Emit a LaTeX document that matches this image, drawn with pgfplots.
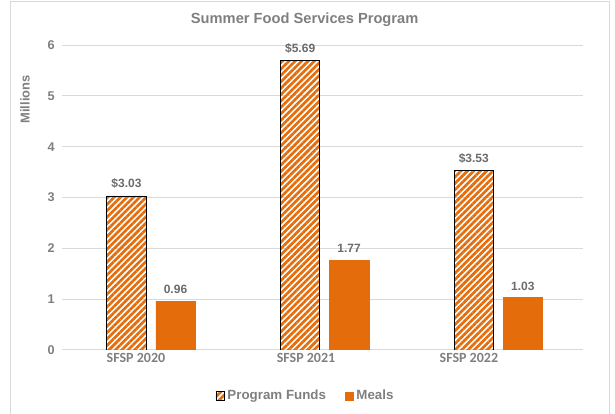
\documentclass[border=0pt]{standalone}
\usepackage{fontspec}
\setmainfont{Liberation Sans}
\newfontfamily\calibri{Carlito}
\usepackage{pgfplots}
\pgfplotsset{compat=1.18}
\usetikzlibrary{patterns.meta}

\definecolor{sfspOrange}{HTML}{E46C0A}
\definecolor{txtGrey}{HTML}{7F7F7F}
\definecolor{lblGrey}{HTML}{6B6B6B}
\definecolor{gridGrey}{HTML}{D9D9D9}

\begin{document}
\begin{tikzpicture}
% 1 px of the reference = 0.75pt; axis box lower-left sits at px (62,350)
\useasboundingbox (-46.5pt,-48pt) rectangle (414.75pt,262.5pt);
\draw[gridGrey, line width=0.75pt] (-38.25pt,-60pt) -- (-38.25pt,261pt) -- (410.25pt,261pt) -- (410.25pt,-60pt);

\node[font=\bfseries\fontsize{11}{13}\selectfont, text=txtGrey] at (182pt,247.5pt) {Summer Food Services Program};
\node[font=\bfseries\fontsize{9.7}{11}\selectfont, text=txtGrey, rotate=90] at (-27.75pt,188pt) {Millions};

\begin{axis}[
    at={(0pt,0pt)}, anchor=south west,
    scale only axis,
    width=390.75pt, height=228.75pt,
    ybar,
    bar width=29.5pt,
    xmin=-0.5, xmax=2.5,
    ymin=0, ymax=6,
    ytick={0,1,2,3,4,5,6},
    xtick={-0.074,0.905,1.843},
    xticklabels={SFSP 2020,SFSP 2021,SFSP 2022},
    xticklabel style={font=\calibri\bfseries\fontsize{10.5}{12}\selectfont, text=txtGrey, yshift=1pt},
    yticklabel style={font=\bfseries\fontsize{9.5}{11}\selectfont, text=txtGrey, xshift=-2pt},
    /pgf/number format/assume math mode=true,
    axis line style={draw=none},
    major tick length=0pt,
    ymajorgrids,
    major grid style={gridGrey, line width=0.75pt},
    area legend,
    legend columns=2,
    legend style={
        at={(0.468,-0.151)}, anchor=center,
        draw=none, fill=none,
        font=\bfseries\fontsize{10}{12}\selectfont, text=txtGrey,
        /tikz/every even column/.append style={column sep=12pt},
    },
    legend image code/.code={
        \draw[#1] (0pt,-3.2pt) rectangle (6.4pt,3.2pt);
    },
    nodes near coords style={font=\bfseries\fontsize{9}{11}\selectfont, text=lblGrey, yshift=2pt},
]

% Program Funds (millions of dollars)
\addplot[
    bar shift=-16.75pt,
    draw=black, line width=0.6pt,
    pattern={Lines[angle=45, distance=3.4pt, line width=2pt]},
    pattern color=sfspOrange,
    nodes near coords={\$\pgfmathprintnumber[fixed,fixed zerofill,precision=2]{\pgfplotspointmeta}},
] coordinates {
    (0, 3.03)
    (1, 5.69)
    (2, 3.53)
};
\addlegendentry{Program Funds}

% Meals (millions)
\addplot[
    bar shift=20pt,
    draw=sfspOrange, fill=sfspOrange,
    nodes near coords={\pgfmathprintnumber[fixed,fixed zerofill,precision=2]{\pgfplotspointmeta}},
] coordinates {
    (0, 0.96)
    (1, 1.77)
    (2, 1.03)
};
\addlegendentry{Meals}

\end{axis}
\end{tikzpicture}
\end{document}
